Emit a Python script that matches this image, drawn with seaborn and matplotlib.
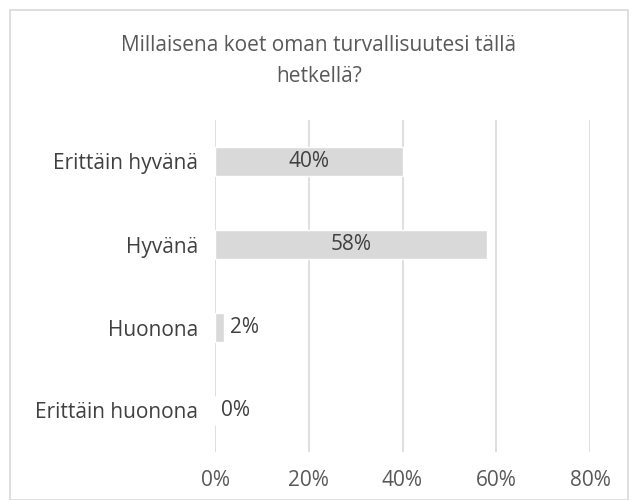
import pandas as pd
import seaborn as sns
import matplotlib.pyplot as plt
from matplotlib.patches import Rectangle

# Data
categories = ['Erittäin hyvänä', 'Hyvänä', 'Huonona', 'Erittäin huonona']
values = [40, 58, 2, 0]
bar_labels = ['40%', '58%', '2%', '0%']
ticks = [0, 20, 40, 60, 80]
tick_labels = ['0%', '20%', '40%', '60%', '80%']
title = 'Millaisena koet oman turvallisuutesi tällä\nhetkellä?'

sns.set_style('white')
plt.rcParams['font.family'] = ['Open Sans', 'DejaVu Sans']

df = pd.DataFrame({'category': categories, 'value': values})
fs = 15

fig = plt.figure(figsize=(6.38, 5.0), dpi=100)
ax = fig.add_axes([215 / 638, 1 - 452 / 500, (590 - 215) / 638, (452 - 120) / 500])

# light frame around the chart area
fig.patches.append(Rectangle((10 / 638, 0.0), 618 / 638, 490 / 500, transform=fig.transFigure,
                             fill=False, edgecolor='#d9d9d9', linewidth=1.2, zorder=0))

sns.barplot(data=df, x='value', y='category', order=categories, color='#d9d9d9',
            width=0.35, saturation=1, ax=ax, zorder=2)

ax.set_xlim(0, 80)
ax.set_xticks(ticks)
ax.set_xticklabels(tick_labels, fontsize=fs, color='#595959')
ax.tick_params(axis='y', labelsize=fs, labelcolor='#404040', length=0, pad=12)
ax.tick_params(axis='x', length=0, pad=13)
ax.set_xlabel('')
ax.set_ylabel('')
ax.grid(axis='x', color='#d9d9d9', linewidth=1.2, zorder=0)
ax.set_axisbelow(True)
for s in ax.spines.values():
    s.set_visible(False)

for i, (v, lab) in enumerate(zip(values, bar_labels)):
    if v > 10:
        ax.text(v / 2, i, lab, ha='center', va='center', fontsize=fs, color='#404040', zorder=3)
    else:
        ax.text(v + 1.3, i, lab, ha='left', va='center', fontsize=fs, color='#404040', zorder=3)

fig.text(0.5, 1 - 61 / 500, title, ha='center', va='center', fontsize=fs,
         color='#595959', linespacing=1.6)

fig.savefig('out.png', dpi=100)
